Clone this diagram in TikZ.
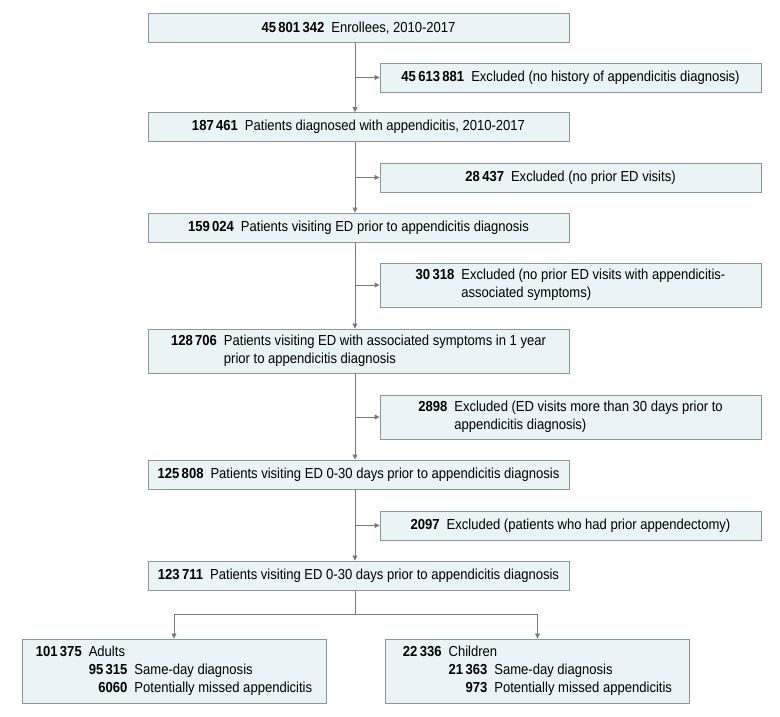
\documentclass[tikz,border=0pt]{standalone}
\usepackage{fontspec}
\setmainfont{Liberation Sans}[FakeStretch=0.9]
\usepackage{xcolor}
\usetikzlibrary{positioning, arrows.meta, calc}
\definecolor{boxFill}{HTML}{EAF3F5}
\definecolor{boxLine}{HTML}{8C979A}
\definecolor{linkGray}{HTML}{7A7A7A}
\newcommand{\cnt}[1]{\textbf{#1}\hspace{7pt}}

\begin{document}
\begin{tikzpicture}[x=1pt, y=1pt,
  box/.style={draw=boxLine, fill=boxFill, line width=0.9pt, inner sep=0pt,
              align=center, font=\fontsize{14.5}{18}\selectfont},
  mainbox/.style={box, minimum width=421pt, minimum height=29pt},
  exclbox/.style={box, minimum width=381pt, minimum height=29pt},
  armbox/.style={box, minimum width=304pt, minimum height=64pt},
  tall/.style={minimum height=44pt},
  link/.style={draw=linkGray, line width=0.8pt},
  arr/.style={link, -{Triangle[length=5pt, width=5pt]}},
]
  \useasboundingbox (0,0) rectangle (780,-717);
  \coordinate (spine) at (355,0);

  \node[mainbox] (b1) at (358.5,-28) {\cnt{45\,801\,342}Enrollees, 2010-2017};
  \node[mainbox] (b2) at (358.5,-127) {\cnt{187\,461}Patients diagnosed with appendicitis, 2010-2017};
  \node[mainbox] (b3) at (358.5,-227.5) {\cnt{159\,024}Patients visiting ED prior to appendicitis diagnosis};
  \node[mainbox, tall] (b4) at (358.5,-351) {%
    \begin{tabular}{@{}r@{\hspace{7pt}}l@{}}
      \textbf{128\,706} & Patients visiting ED with associated symptoms in 1 year\\
                        & prior to appendicitis diagnosis
    \end{tabular}};
  \node[mainbox] (b5) at (358.5,-474.5) {\cnt{125\,808}Patients visiting ED 0-30 days prior to appendicitis diagnosis};
  \node[mainbox] (b6) at (358.5,-575.5) {\cnt{123\,711}Patients visiting ED 0-30 days prior to appendicitis diagnosis};

  \node[exclbox] (x1) at (570.5,-77.5) {\cnt{45\,613\,881}Excluded (no history of appendicitis diagnosis)};
  \node[exclbox] (x2) at (570.5,-177.5) {\cnt{28\,437}Excluded (no prior ED visits)};
  \node[exclbox, tall] (x3) at (570.5,-285) {%
    \begin{tabular}{@{}r@{\hspace{7pt}}l@{}}
      \textbf{30\,318} & Excluded (no prior ED visits with appendicitis-\\
                       & associated symptoms)
    \end{tabular}};
  \node[exclbox, tall] (x4) at (570.5,-417) {%
    \begin{tabular}{@{}r@{\hspace{7pt}}l@{}}
      \textbf{2898} & Excluded (ED visits more than 30 days prior to\\
                    & appendicitis diagnosis)
    \end{tabular}};
  \node[exclbox] (x5) at (570.5,-525.5) {\cnt{2097}Excluded (patients who had prior appendectomy)};

  \node[armbox] (adults) at (174,-671) {%
    \begin{tabular}{@{}r@{\hspace{7pt}}r@{\hspace{7pt}}l@{}}
      \textbf{101\,375} & \multicolumn{2}{@{}l@{}}{Adults}\\
                        & \textbf{95\,315} & Same-day diagnosis\\
                        & \textbf{6060} & Potentially missed appendicitis
    \end{tabular}};
  \node[armbox] (kids) at (537.5,-671) {%
    \begin{tabular}{@{}r@{\hspace{7pt}}r@{\hspace{7pt}}l@{}}
      \textbf{22\,336} & \multicolumn{2}{@{}l@{}}{Children}\\
                       & \textbf{21\,363} & Same-day diagnosis\\
                       & \textbf{973} & Potentially missed appendicitis
    \end{tabular}};

  \foreach \a/\b in {b1/b2, b2/b3, b3/b4, b4/b5, b5/b6}
    \draw[arr] (\a.south -| spine) -- (\b.north -| spine);
  \foreach \x in {x1, x2, x3, x4, x5}
    \draw[arr] (\x.west -| spine) -- (\x.west);

  \draw[link] (b6.south -| spine) -- ($(b6.south -| spine)+(0,-24)$) coordinate (fork);
  \draw[arr] (fork) -| (adults.north);
  \draw[arr] (fork) -| (kids.north);
\end{tikzpicture}
\end{document}
